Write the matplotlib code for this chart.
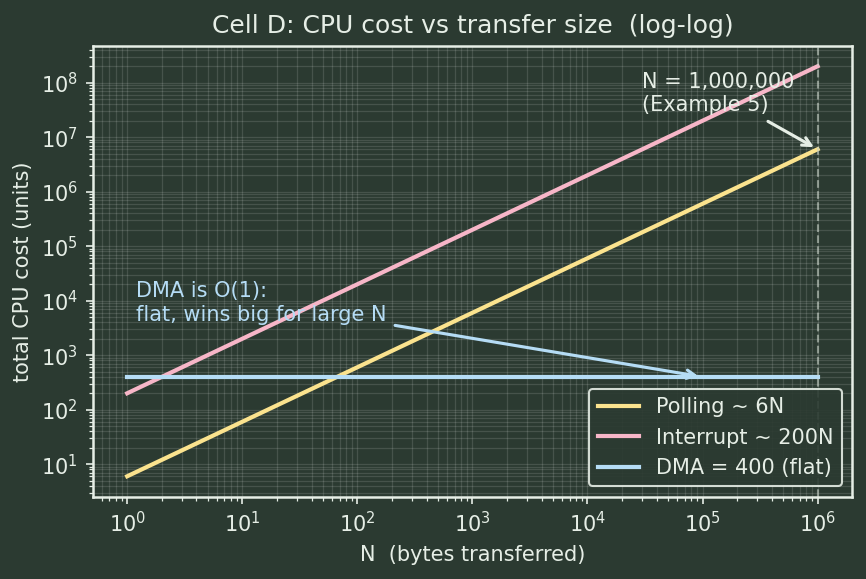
import numpy as np
import matplotlib
matplotlib.use("Agg")
import matplotlib.pyplot as plt

BG = "#2b3a31"
FG = "#e6eee6"

# data
n_vals = [1, 10, 100, 1000, 10000, 100000, 1000000]
polling_cost = [6, 60, 600, 6000, 60000, 600000, 6000000]
interrupt_cost = [200, 2000, 20000, 200000, 2000000, 20000000, 200000000]
dma_cost = [400, 400, 400, 400, 400, 400, 400]

plt.rcParams.update({
    "text.color": FG,
    "axes.labelcolor": FG,
    "xtick.color": FG,
    "ytick.color": FG,
    "axes.edgecolor": FG,
})

fig, ax = plt.subplots(figsize=(866 / 150, 579 / 150), dpi=150)
fig.patch.set_facecolor(BG)
ax.set_facecolor(BG)

ax.loglog(n_vals, polling_cost, color="#fbe38e", lw=2, label="Polling ~ 6N")
ax.loglog(n_vals, interrupt_cost, color="#f7b6c8", lw=2, label="Interrupt ~ 200N")
ax.loglog(n_vals, dma_cost, color="#b5dcf5", lw=2, label="DMA = 400 (flat)")

ax.axvline(1e6, color="#c8d2c8", ls="--", lw=1, alpha=0.6)

ax.annotate("N = 1,000,000\n(Example 5)", xy=(1e6, 6e6), xytext=(3e4, 3e7),
            color=FG, fontsize=10,
            arrowprops=dict(arrowstyle="->", color=FG, lw=1.5))
ax.annotate("DMA is O(1):\nflat, wins big for large N", xy=(1e5, 400),
            xytext=(1.2, 4.3e3), color="#b5dcf5", fontsize=10,
            arrowprops=dict(arrowstyle="->", color="#b5dcf5", lw=1.5))

ax.grid(True, which="both", color="white", alpha=0.13, lw=0.6)
ax.set_title("Cell D: CPU cost vs transfer size  (log-log)", color=FG, fontsize=12)
ax.set_xlabel("N  (bytes transferred)")
ax.set_ylabel("total CPU cost (units)")
for s in ax.spines.values():
    s.set_linewidth(1.2)

leg = ax.legend(loc="lower right", facecolor=BG, edgecolor=FG, fontsize=10,
                framealpha=0.9)
for t in leg.get_texts():
    t.set_color(FG)

fig.subplots_adjust(left=0.107, right=0.984, top=0.921, bottom=0.142)
fig.savefig("out.png", dpi=150, facecolor=BG)
